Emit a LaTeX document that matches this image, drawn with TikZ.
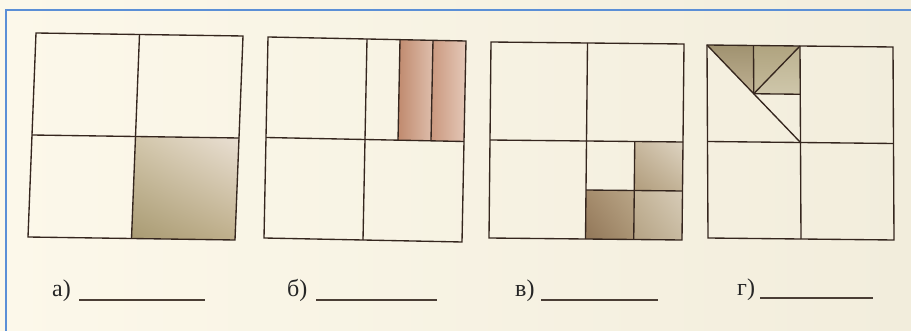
\documentclass[tikz,border=0pt]{standalone}
\usepackage{fontspec}
\setmainfont{Liberation Serif}
\usetikzlibrary{shadings}
\definecolor{paperL}{HTML}{FCF8EA}
\definecolor{paperR}{HTML}{F2EDDC}
\definecolor{framec}{HTML}{5B8FD6}
\definecolor{linec}{HTML}{35261E}
\definecolor{ulc}{HTML}{4A3E35}
% square a
\definecolor{aLL}{RGB}{168,154,114}
\definecolor{aLR}{RGB}{192,176,140}
\definecolor{aUL}{RGB}{210,198,170}
\definecolor{aUR}{RGB}{234,224,212}
% square b
\definecolor{bA}{RGB}{192,138,110}
\definecolor{bB}{RGB}{222,190,172}
\definecolor{bC}{RGB}{202,152,126}
\definecolor{bD}{RGB}{228,200,184}
% square c
\definecolor{c1UL}{RGB}{200,184,158}
\definecolor{c1UR}{RGB}{222,212,194}
\definecolor{c1LL}{RGB}{176,156,124}
\definecolor{c1LR}{RGB}{196,180,152}
\definecolor{c2UL}{RGB}{165,140,108}
\definecolor{c2UR}{RGB}{185,165,135}
\definecolor{c2LL}{RGB}{145,118,88}
\definecolor{c2LR}{RGB}{170,148,116}
\definecolor{c3UL}{RGB}{196,180,152}
\definecolor{c3UR}{RGB}{215,204,184}
\definecolor{c3LL}{RGB}{180,162,132}
\definecolor{c3LR}{RGB}{200,186,160}
% square d
\definecolor{d1T}{RGB}{160,146,112}
\definecolor{d1B}{RGB}{190,176,146}
\definecolor{d2T}{RGB}{176,164,128}
\definecolor{d2B}{RGB}{196,186,154}
\definecolor{d3T}{RGB}{188,178,144}
\definecolor{d3B}{RGB}{206,198,170}
\begin{document}
\begin{tikzpicture}[x=1pt,y=-1pt,
  sq/.style={draw=linec, line width=1.35pt, line join=miter},
  lab/.style={font=\fontsize{24}{28}\selectfont, text=black!85, anchor=base west, inner sep=0pt},
  uline/.style={draw=ulc, line width=1.1pt}]
\useasboundingbox (0,0) rectangle (911,331);
\shade[left color=paperL, right color=paperR] (0,0) rectangle (911,331);
\draw[framec, line width=2pt] (911,10) -- (6,10) -- (6,331);

% square a
\begin{scope}[shift={(36,33)}, x={(207pt,-3pt)}, y={(-8pt,-204pt)}]
  \shade[lower left=aLL, lower right=aLR, upper left=aUL, upper right=aUR]
    (0.5,0.5)--(1,0.5)--(1,1)--(0.5,1)--cycle;
  \draw[sq] (0,0)--(1,0)--(1,1)--(0,1)--cycle;
  \draw[sq] (0.5,0)--(0.5,1) (0,0.5)--(1,0.5);
\end{scope}

% square b
\begin{scope}[shift={(268,37)}, x={(198pt,-4pt)}, y={(-4pt,-201pt)}]
  \shade[left color=bA, right color=bB]
    (0.6667,0)--(0.8333,0)--(0.8333,0.5)--(0.6667,0.5)--cycle;
  \shade[left color=bC, right color=bD]
    (0.8333,0)--(1,0)--(1,0.5)--(0.8333,0.5)--cycle;
  \draw[sq] (0,0)--(1,0)--(1,1)--(0,1)--cycle;
  \draw[sq] (0.5,0)--(0.5,1) (0,0.5)--(1,0.5);
  \draw[sq] (0.6667,0)--(0.6667,0.5) (0.8333,0)--(0.8333,0.5);
\end{scope}

% square c
\begin{scope}[shift={(491,42)}, x={(193pt,-2pt)}, y={(-2pt,-196pt)}]
  \shade[upper left=c1UL, upper right=c1UR, lower left=c1LL, lower right=c1LR]
    (0.75,0.5)--(1,0.5)--(1,0.75)--(0.75,0.75)--cycle;
  \shade[upper left=c2UL, upper right=c2UR, lower left=c2LL, lower right=c2LR]
    (0.5,0.75)--(0.75,0.75)--(0.75,1)--(0.5,1)--cycle;
  \shade[upper left=c3UL, upper right=c3UR, lower left=c3LL, lower right=c3LR]
    (0.75,0.75)--(1,0.75)--(1,1)--(0.75,1)--cycle;
  \draw[sq] (0,0)--(1,0)--(1,1)--(0,1)--cycle;
  \draw[sq] (0.5,0)--(0.5,1) (0,0.5)--(1,0.5);
  \draw[sq] (0.75,0.5)--(0.75,1) (0.5,0.75)--(1,0.75);
\end{scope}

% square d
\begin{scope}[shift={(707,45)}, x={(186pt,-2pt)}, y={(1pt,-193pt)}]
  \shade[top color=d1T, bottom color=d1B]
    (0,0)--(0.25,0)--(0.25,0.25)--cycle;
  \shade[top color=d2T, bottom color=d2B]
    (0.25,0)--(0.5,0)--(0.25,0.25)--cycle;
  \shade[top color=d3T, bottom color=d3B]
    (0.5,0)--(0.5,0.25)--(0.25,0.25)--cycle;
  \draw[sq] (0,0)--(1,0)--(1,1)--(0,1)--cycle;
  \draw[sq] (0.5,0)--(0.5,1) (0,0.5)--(1,0.5);
  \draw[sq] (0,0)--(0.5,0.5);
  \draw[sq] (0.25,0)--(0.25,0.25)--(0.5,0.25);
  \draw[sq] (0.25,0.25)--(0.5,0);
\end{scope}

% labels
\node[lab] (la) at (52,297) {а)};
\node[lab] (lb) at (287,297) {б)};
\node[lab] (lc) at (515,297) {в)};
\node[lab] (ld) at (737,296) {г)};
\coordinate (ea) at (205,300);
\coordinate (eb) at (437,300);
\coordinate (ec) at (658,300);
\coordinate (ed) at (873,298);
\draw[uline] (79,300) -- (ea);
\draw[uline] (316,300) -- (eb);
\draw[uline] (541,300) -- (ec);
\draw[uline] (760,298) -- (ed);
\end{tikzpicture}
\end{document}
